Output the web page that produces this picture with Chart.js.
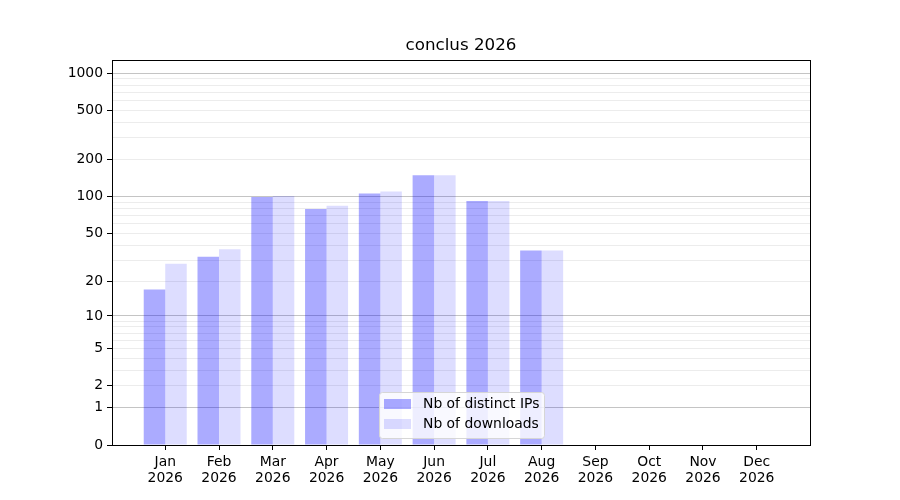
<!DOCTYPE html>
<html>
<head>
<meta charset="utf-8">
<script src="https://cdn.jsdelivr.net/npm/chart.js@4.4.0/dist/chart.umd.min.js"></script>
<style>
  html, body { margin: 0; padding: 0; background: #fff; }
  #wrap { width: 900px; height: 500px; }
</style>
</head>
<body>
<div id="wrap"><canvas id="chart" width="900" height="500"></canvas></div>
<script>
// Chart data
const months = ["Jan", "Feb", "Mar", "Apr", "May", "Jun", "Jul", "Aug", "Sep", "Oct", "Nov", "Dec"];
const year = "2026";
const distinctIps = [17, 32, 99, 79, 106, 149, 92, 36, 0, 0, 0, 0];
const downloads = [28, 37, 101, 84, 110, 149, 92, 36, 0, 0, 0, 0];

const yLabelTicks = [0, 1, 2, 5, 10, 20, 50, 100, 200, 500, 1000];
const yMajorGrid = [1, 10, 100, 1000];
const yMinorGrid = [3, 4, 6, 7, 8, 9, 30, 40, 60, 70, 80, 90, 300, 400, 600, 700, 800, 900];

const FONT = "'DejaVu Sans', sans-serif";
const TICK_SIZE = 13.9;

// y scale: log10(1 + v), so 0 can sit on the axis
class Log1pScale extends Chart.LinearScale {
  determineDataLimits() {
    this.min = this.options.min;
    this.max = this.options.max;
  }
  buildTicks() {
    const all = yLabelTicks.concat(yMinorGrid).sort((a, b) => a - b);
    return all.map((v) => ({ value: v }));
  }
  configure() {
    super.configure();
    this._tmin = Math.log10(1 + this.min);
    this._trange = Math.log10(1 + this.max) - this._tmin;
  }
  getPixelForValue(value) {
    return this.getPixelForDecimal((Math.log10(1 + value) - this._tmin) / this._trange);
  }
  getValueForPixel(pixel) {
    return Math.pow(10, this._tmin + this.getDecimalForPixel(pixel) * this._trange) - 1;
  }
}
Log1pScale.id = "log1p";
Log1pScale.defaults = Chart.LinearScale.defaults;
Chart.register(Log1pScale);

// black box round the plot
const framePlugin = {
  id: "frame",
  afterDatasetsDraw: (chart) => {
    const a = chart.chartArea;
    const ctx = chart.ctx;
    ctx.save();
    ctx.strokeStyle = "#000";
    ctx.lineWidth = 1;
    ctx.strokeRect(Math.round(a.left) + 0.5, Math.round(a.top) + 0.5,
      Math.round(a.right - a.left), Math.round(a.bottom - a.top));
    ctx.restore();
  },
};

// legend inside the plot, lower centre
const boxLegendPlugin = {
  id: "boxLegend",
  afterDraw: (chart) => {
    const ctx = chart.ctx;
    const sets = chart.data.datasets;
    const x = 379, y = 392, w = 165, h = 46;
    ctx.save();
    ctx.beginPath();
    ctx.roundRect(x + 0.5, y + 0.5, w, h, 3);
    ctx.fillStyle = "rgba(255,255,255,0.8)";
    ctx.fill();
    ctx.strokeStyle = "#d6d6d6";
    ctx.lineWidth = 1;
    ctx.stroke();
    ctx.font = `${TICK_SIZE}px ${FONT}`;
    ctx.textBaseline = "middle";
    sets.forEach((ds, i) => {
      const cy = y + 12 + i * 20;
      ctx.fillStyle = ds.backgroundColor;
      ctx.fillRect(x + 5, cy - 5, 27, 10);
      ctx.fillStyle = "#000";
      ctx.fillText(ds.label, x + 44, cy);
    });
    ctx.restore();
  },
};

const ctx = document.getElementById("chart").getContext("2d");
new Chart(ctx, {
  type: "bar",
  data: {
    datasets: [
      {
        label: "Nb of distinct IPs",
        data: distinctIps.map((v, i) => ({ x: i, y: v })),
        backgroundColor: "rgba(0,0,255,0.33)",
        borderWidth: 0,
        categoryPercentage: 0.8,
        barPercentage: 1.0,
      },
      {
        label: "Nb of downloads",
        data: downloads.map((v, i) => ({ x: i, y: v })),
        backgroundColor: "rgba(0,0,255,0.133)",
        borderWidth: 0,
        categoryPercentage: 0.8,
        barPercentage: 1.0,
      },
    ],
  },
  options: {
    responsive: false,
    animation: false,
    layout: { padding: { left: 0, right: 90, top: 0, bottom: 0 } },
    plugins: {
      legend: { display: false },
      tooltip: { enabled: false },
      title: {
        display: true,
        text: "conclus 2026",
        fullSize: false,
        color: "#000",
        font: { family: FONT, size: 16.7, weight: "normal", lineHeight: 1.2 },
        padding: { top: 36, bottom: 4 },
      },
    },
    scales: {
      x: {
        type: "linear",
        min: -0.99,
        max: 11.99,
        offset: false,
        afterBuildTicks: (scale) => {
          scale.ticks = months.map((_, i) => ({ value: i }));
        },
        afterFit: (scale) => { scale.height = 55; },
        ticks: {
          autoSkip: false,
          maxRotation: 0,
          padding: 5,
          color: "#000",
          font: { family: FONT, size: TICK_SIZE, lineHeight: 1.12 },
          callback: (value) => [months[value], year],
        },
        grid: {
          drawOnChartArea: false,
          drawTicks: true,
          tickLength: 5,
          tickColor: "#000",
          offset: false,
        },
        border: { display: false },
      },
      y: {
        type: "log1p",
        min: 0,
        max: 1273,
        afterFit: (scale) => { scale.width = 112; },
        ticks: {
          autoSkip: false,
          padding: 4,
          color: "#000",
          font: { family: FONT, size: TICK_SIZE },
          callback: (value) => (yLabelTicks.includes(value) ? String(value) : ""),
        },
        grid: {
          drawTicks: true,
          tickLength: 5,
          lineWidth: 1,
          color: (c) => {
            const v = c.tick ? c.tick.value : null;
            if (v === 0) return "rgba(0,0,0,0)";
            return yMajorGrid.includes(v) ? "#c4c4c4" : "#ececec";
          },
          tickColor: (c) => {
            const v = c.tick ? c.tick.value : null;
            return yLabelTicks.includes(v) ? "#000" : "rgba(0,0,0,0)";
          },
        },
        border: { display: false },
      },
    },
  },
  plugins: [framePlugin, boxLegendPlugin],
});
</script>
</body>
</html>
